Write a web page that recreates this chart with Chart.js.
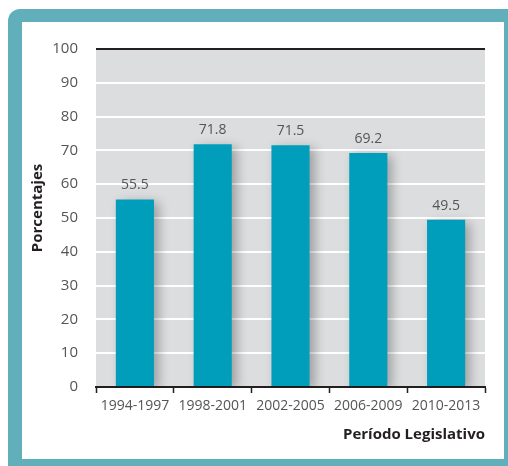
<!DOCTYPE html>
<html>
<head>
<meta charset="utf-8">
<script src="https://cdn.jsdelivr.net/npm/chart.js@4"></script>
<style>
  html, body { margin: 0; padding: 0; background: #fff; overflow: hidden; }
  #wrap { width: 508px; height: 466px; }
</style>
</head>
<body>
<div id="wrap"><canvas id="chart" width="508" height="466"></canvas></div>
<script>
const periods = ['1994-1997', '1998-2001', '2002-2005', '2006-2009', '2010-2013'];
const percentages = [55.5, 71.8, 71.5, 69.2, 49.5];
const yTitle = 'Porcentajes';
const xTitle = 'Período Legislativo';

const frameColor = '#62afbc';
const barColor = '#009ebb';
const plotBg = '#dcdddf';
const textColor = '#555555';

// teal frame + gray plot area
const backdrop = {
  id: 'backdrop',
  beforeDraw(chart) {
    const ctx = chart.ctx;
    const a = chart.chartArea;
    ctx.save();
    ctx.fillStyle = '#ffffff';
    ctx.fillRect(0, 0, chart.width, chart.height);
    ctx.fillStyle = frameColor;
    ctx.beginPath();
    ctx.roundRect(8, 9, 510, 464, [12, 0, 0, 0]);
    ctx.fill();
    ctx.fillStyle = '#ffffff';
    ctx.fillRect(22, 22, 482, 437);
    ctx.fillStyle = plotBg;
    ctx.fillRect(a.left, a.top, a.right - a.left, a.bottom - a.top);
    ctx.restore();
  }
};

// soft shadow behind the bars
const barShadow = {
  id: 'barShadow',
  beforeDatasetsDraw(chart) {
    const ctx = chart.ctx;
    ctx.save();
    ctx.shadowColor = 'rgba(0,0,0,0.28)';
    ctx.shadowBlur = 10;
    ctx.shadowOffsetX = 5;
    ctx.shadowOffsetY = 3;
  },
  afterDatasetsDraw(chart) {
    chart.ctx.restore();
  }
};

// value labels above bars and the rotated y title
const labels = {
  id: 'labels',
  afterDraw(chart) {
    const ctx = chart.ctx;
    const meta = chart.getDatasetMeta(0);
    ctx.save();
    ctx.font = '14px "Open Sans"';
    ctx.fillStyle = textColor;
    ctx.textAlign = 'center';
    ctx.textBaseline = 'middle';
    meta.data.forEach((bar, i) => {
      ctx.fillText(String(percentages[i]), bar.x, bar.y - 14);
    });
    ctx.translate(38, 208);
    ctx.rotate(-Math.PI / 2);
    ctx.font = 'bold 15px "Open Sans"';
    ctx.fillStyle = '#231f20';
    ctx.fillText(yTitle, 0, 0);
    ctx.restore();
  }
};

new Chart(document.getElementById('chart'), {
  type: 'bar',
  data: {
    labels: periods,
    datasets: [{
      data: percentages,
      backgroundColor: barColor,
      borderWidth: 0,
      categoryPercentage: 1,
      barPercentage: 0.49
    }]
  },
  options: {
    responsive: false,
    animation: false,
    devicePixelRatio: 1,
    layout: { padding: { left: 22, top: 49, right: 23, bottom: 0 } },
    plugins: {
      legend: { display: false },
      tooltip: { enabled: false }
    },
    scales: {
      x: {
        afterFit(scale) { scale.height = 79; },
        grid: {
          drawOnChartArea: false,
          drawTicks: true,
          tickLength: 6,
          tickWidth: 1.5,
          tickColor: '#231f20'
        },
        border: { display: true, color: '#231f20', width: 2 },
        ticks: {
          color: textColor,
          font: { family: 'Open Sans', size: 14 },
          padding: 5,
          maxRotation: 0
        },
        title: {
          display: true,
          text: xTitle,
          align: 'end',
          color: '#231f20',
          font: { family: 'Open Sans', size: 15, weight: 'bold' },
          padding: { top: 0, bottom: 22 }
        }
      },
      y: {
        min: 0,
        max: 100,
        afterFit(scale) { scale.width = 74; },
        grid: {
          drawTicks: false,
          color: c => (c.tick.value === 100 || c.tick.value === 0) ? '#231f20' : '#ffffff',
          lineWidth: 2
        },
        border: { display: false },
        ticks: {
          stepSize: 10,
          color: textColor,
          font: { family: 'Open Sans', size: 15 },
          padding: 18
        }
      }
    }
  },
  plugins: [backdrop, barShadow, labels]
});
</script>
</body>
</html>
